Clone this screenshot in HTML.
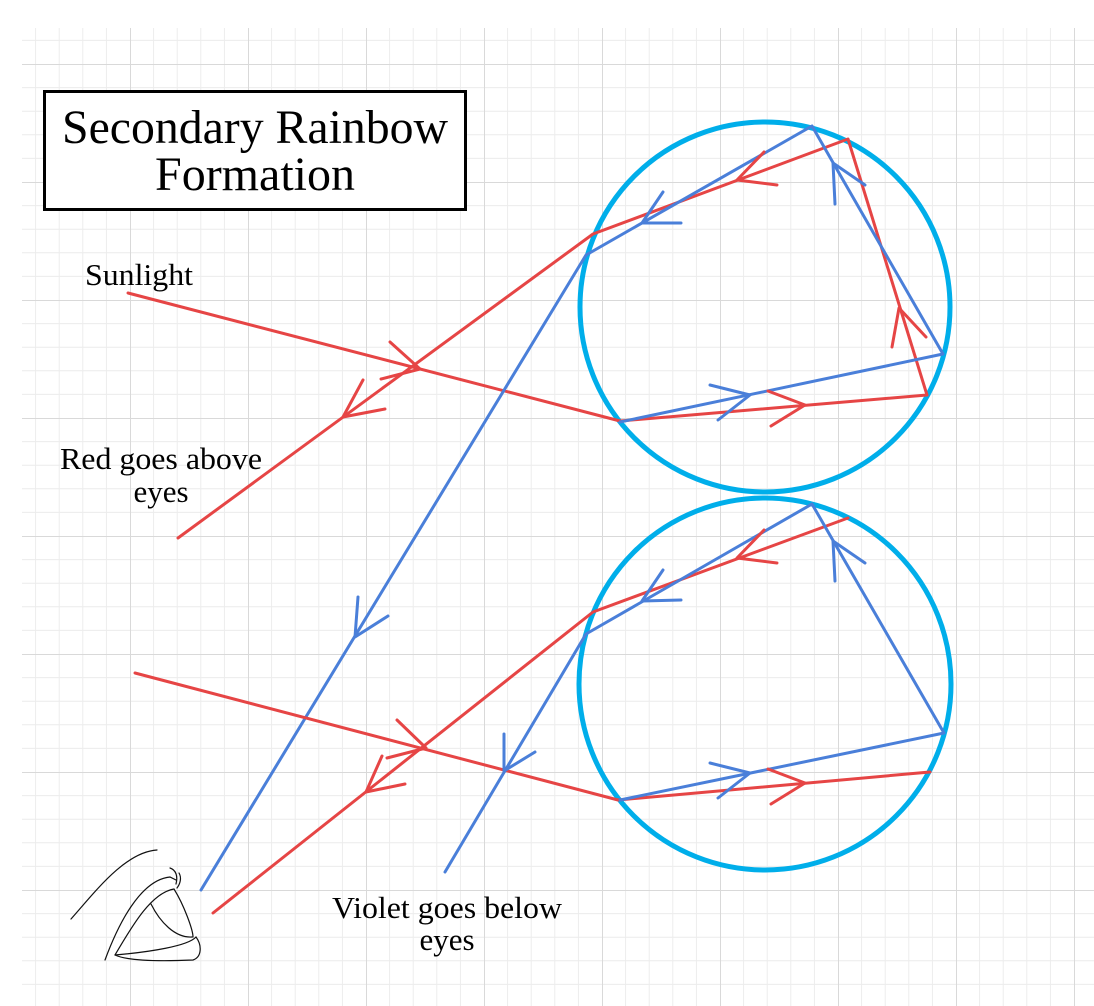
<!DOCTYPE html>
<html><head><meta charset="utf-8"><style>
html,body{margin:0;padding:0;background:#fff;}
svg{display:block;}
text{font-family:"Liberation Serif",serif;fill:#000;}
</style></head><body>
<svg width="1094" height="1006" viewBox="0 0 1094 1006" xmlns="http://www.w3.org/2000/svg">
<defs>
<pattern id="g" patternUnits="userSpaceOnUse" x="12" y="64" width="118" height="118">
<g stroke="#ececec" stroke-width="1">
<line x1="23.6" y1="0" x2="23.6" y2="118"/><line x1="47.2" y1="0" x2="47.2" y2="118"/><line x1="70.8" y1="0" x2="70.8" y2="118"/><line x1="94.4" y1="0" x2="94.4" y2="118"/>
<line y1="23.6" x1="0" y2="23.6" x2="118"/><line y1="47.2" x1="0" y2="47.2" x2="118"/><line y1="70.8" x1="0" y2="70.8" x2="118"/><line y1="94.4" x1="0" y2="94.4" x2="118"/>
</g>
<g stroke="#d9d9d9" stroke-width="1"><line x1="0.5" y1="0" x2="0.5" y2="118"/><line y1="0.5" x1="0" y2="0.5" x2="118"/></g>
</pattern>
</defs>
<rect x="22" y="28" width="1072" height="978" fill="url(#g)"/>

<!-- title -->
<rect x="44.5" y="91.5" width="421" height="118" fill="#fff" stroke="#000" stroke-width="3"/>
<text x="255" y="143" font-size="48" text-anchor="middle" textLength="386" lengthAdjust="spacingAndGlyphs">Secondary Rainbow</text>
<text x="255" y="190" font-size="48" text-anchor="middle">Formation</text>
<text x="85" y="285" font-size="31" textLength="108" lengthAdjust="spacingAndGlyphs">Sunlight</text>
<text x="161" y="469" font-size="31" text-anchor="middle" textLength="202" lengthAdjust="spacingAndGlyphs">Red goes above</text>
<text x="161" y="502" font-size="31" text-anchor="middle">eyes</text>
<text x="447" y="918" font-size="31" text-anchor="middle" textLength="230" lengthAdjust="spacingAndGlyphs">Violet goes below</text>
<text x="447" y="950" font-size="31" text-anchor="middle">eyes</text>

<!-- circles -->
<circle cx="765" cy="307" r="185" fill="none" stroke="#00aeea" stroke-width="5"/>
<circle cx="765" cy="684" r="186" fill="none" stroke="#00aeea" stroke-width="5"/>

<g fill="none" stroke-width="3" stroke-linecap="round" stroke-linejoin="round">
<polyline stroke="#e64545" points="128,293 620,421 927,395 848,139 593,234 178,538"/>
<polyline stroke="#4a7fd9" points="620,422 943,354 812,126 586,255 201,890"/>
<polyline stroke="#e64545" points="135,673 618,800 930,772"/>
<polyline stroke="#e64545" points="848,518 593,612 213,913"/>
<polyline stroke="#4a7fd9" points="620,800 944,733 812,504 586,634 445,872"/>

<polyline stroke="#e64545" points="390,342 420,369 381,379"/>
<polyline stroke="#e64545" points="363,380 343,417 385,409"/>
<polyline stroke="#e64545" points="397,720 426,748 387,758"/>
<polyline stroke="#e64545" points="382,756 366,792 405,784"/>
<polyline stroke="#4a7fd9" points="358,597 355,637 388,616"/>
<polyline stroke="#4a7fd9" points="504,734 504,771 535,752"/>

<polyline stroke="#e64545" points="764,152 737,180 777,185"/>
<polyline stroke="#4a7fd9" points="663,192 642,223 681,223"/>
<polyline stroke="#4a7fd9" points="835,204 833,163 865,185"/>
<polyline stroke="#e64545" points="892,347 899,308 926,337"/>
<polyline stroke="#4a7fd9" points="710,385 750,395 718,420"/>
<polyline stroke="#e64545" points="768,391 805,405 771,426"/>

<polyline stroke="#e64545" points="764,530 737,558 777,563"/>
<polyline stroke="#4a7fd9" points="663,570 642,601 681,600"/>
<polyline stroke="#4a7fd9" points="835,581 833,541 865,563"/>
<polyline stroke="#4a7fd9" points="710,763 750,773 718,798"/>
<polyline stroke="#e64545" points="768,769 805,783 771,804"/>
</g>

<!-- eye -->
<g fill="none" stroke="#111" stroke-width="1.2" stroke-linecap="round">
<path d="M71,919 C95,892 125,852 157,850"/>
<path d="M105,960 C118,925 140,880 170,877 L176,880"/>
<path d="M170,868 C176,870 178,876 176,884"/>
<path d="M179,873 C182,878 180,884 177,888"/>
<path d="M115,955 C130,930 150,893 174,889 C184,905 193,930 193,937"/>
<path d="M151,904 C160,922 175,938 192,937"/>
<path d="M115,955 C150,952 188,946 196,937 C202,945 202,957 193,960 C170,961 130,962 115,955"/>
</g>
</svg>
</body></html>
